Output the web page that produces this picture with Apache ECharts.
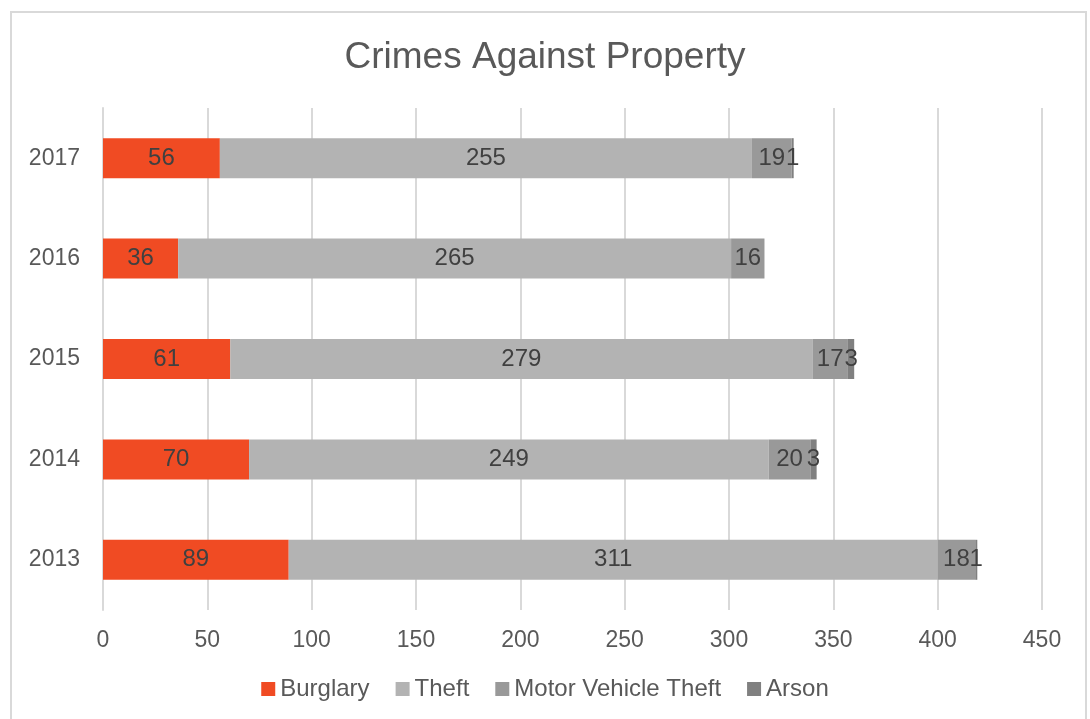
<!DOCTYPE html>
<html>
<head>
<meta charset="utf-8">
<script src="https://cdn.jsdelivr.net/npm/echarts@6/dist/echarts.min.js"></script>
<style>
  html, body { margin: 0; padding: 0; background: #fff; }
  #frame { position: absolute; left: 10px; top: 11px; width: 1077px; height: 720px;
           border: 2px solid #d9d9d9; box-sizing: border-box; }
  #chart { position: absolute; left: 0; top: 0; width: 1090px; height: 719px; }
</style>
</head>
<body>
<div id="frame"></div>
<div id="chart"></div>
<script>
// Crimes against property, by year
const years = ['2013', '2014', '2015', '2016', '2017'];
const burglary = [89, 70, 61, 36, 56];
const theft = [311, 249, 279, 265, 255];
const motorVehicleTheft = [18, 20, 17, 16, 19];
const arson = [1, 3, 3, null, 1];
const xTicks = { min: 0, max: 450, interval: 50 };

const FONT = '"Liberation Sans", Arial, sans-serif';
const chart = echarts.init(document.getElementById('chart'));

function seriesOf(name, data, color) {
  return {
    name, type: 'bar', stack: 'total', data, barWidth: 40,
    itemStyle: { color },
    label: {
      show: true, position: 'inside', color: '#404040',
      fontFamily: FONT, fontSize: 24
    }
  };
}

chart.setOption({
  animation: false,
  textStyle: { fontFamily: FONT },
  title: {
    text: 'Crimes Against Property', left: 'center', top: 34,
    textStyle: { fontFamily: FONT, fontSize: 37, fontWeight: 'normal', color: '#595959' }
  },
  legend: {
    bottom: 13, left: 'center', itemWidth: 14, itemHeight: 14, itemGap: 26,
    icon: 'rect',
    textStyle: { fontFamily: FONT, fontSize: 24, color: '#595959', padding: [0, 0, 0, 0] },
    data: ['Burglary', 'Theft', 'Motor Vehicle Theft', 'Arson']
  },
  grid: { left: 103, right: 48, top: 108, height: 502, containLabel: false },
  xAxis: {
    type: 'value', min: xTicks.min, max: xTicks.max, interval: xTicks.interval,
    axisLine: { show: false }, axisTick: { show: false },
    axisLabel: { fontFamily: FONT, fontSize: 23, color: '#595959', margin: 19 },
    splitLine: { lineStyle: { color: '#d9d9d9', width: 2 } }
  },
  yAxis: {
    type: 'category', data: years,
    axisLine: { show: true, lineStyle: { color: '#d9d9d9', width: 2 } },
    axisTick: { show: false },
    axisLabel: { fontFamily: FONT, fontSize: 23, color: '#595959', margin: 23 }
  },
  series: [
    seriesOf('Burglary', burglary, '#f04b23'),
    seriesOf('Theft', theft, '#b3b3b3'),
    seriesOf('Motor Vehicle Theft', motorVehicleTheft, '#999999'),
    seriesOf('Arson', arson, '#808080')
  ]
});
</script>
</body>
</html>
